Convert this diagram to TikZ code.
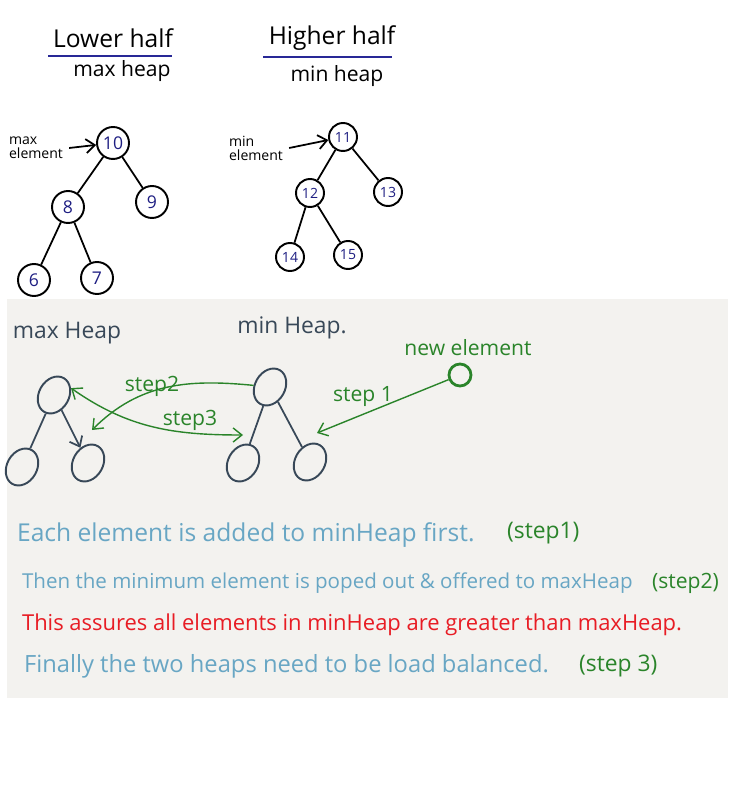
\documentclass[tikz,border=0pt]{standalone}
\usepackage{fontspec}
\setmainfont{Open Sans}
\usetikzlibrary{shapes.geometric,arrows.meta,positioning}
\definecolor{inkblue}{RGB}{104,166,196}
\definecolor{stepgreen}{RGB}{42,132,42}
\definecolor{alertred}{RGB}{232,28,36}
\definecolor{slate}{RGB}{56,72,88}
\definecolor{numblue}{RGB}{30,30,130}
\definecolor{rulerblue}{RGB}{40,40,150}
\definecolor{paper}{RGB}{243,242,239}
\newcommand\lx{15}

\begin{document}
\begin{tikzpicture}[x=0.02cm, y=-0.02cm, >={Straight Barb[length=5pt,width=8pt]},
    heapnode/.style={circle, draw, line width=1.1pt, minimum size=0.64cm, inner sep=0pt, text=numblue, font=\fontsize{10}{10}\selectfont},
    smallnode/.style={heapnode, minimum size=0.56cm, font=\fontsize{8}{8}\selectfont},
    branch/.style={line width=1pt},
    oval/.style={ellipse, draw=slate, line width=1.1pt, minimum width=0.6cm, minimum height=0.78cm, inner sep=0pt, rotate=-30},
    hand/.style={font=\fontsize{12}{14}\selectfont, inner sep=1pt},
    stepline/.style={stepgreen, line width=0.8pt}]

    \useasboundingbox (0,0) rectangle (728,790);

    %Lower half
    \node at (113,38) [font=\fontsize{14}{14}\selectfont] (lower) {Lower half};
    \draw[rulerblue, line width=1.6pt] (48,56) -- (172,56);
    \node at (122,71) [hand] (maxh) {max heap};

    %Higher half
    \node at (332,38) [font=\fontsize{14}{14}\selectfont] (higher) {Higher half};
    \draw[rulerblue, line width=1.6pt] (263,57) -- (392,57);
    \node at (337,76) [hand] (minh) {min heap};

    %max heap
    \node at (113,143) [heapnode] (n10) {10};
    \node at (68,207) [heapnode] (n8) {8};
    \node at (152,202) [heapnode] (n9) {9};
    \node at (34,280) [heapnode] (n6) {6};
    \node at (97,278) [heapnode] (n7) {7};
    \draw[branch] (n10) -- (n8);
    \draw[branch] (n10) -- (n9);
    \draw[branch] (n8) -- (n6);
    \draw[branch] (n8) -- (n7);
    \node at (36,148) [align=left, font=\fontsize{8}{8}\selectfont] (maxel) {max\\element};
    \draw[->, branch] (maxel.east) -- (n10);

    %min heap
    \node at (343,137) [smallnode] (n11) {11};
    \node at (310,193) [smallnode] (n12) {12};
    \node at (388,192) [smallnode] (n13) {13};
    \node at (290,257) [smallnode] (n14) {14};
    \node at (348,255) [smallnode] (n15) {15};
    \draw[branch] (n11) -- (n12);
    \draw[branch] (n11) -- (n13);
    \draw[branch] (n12) -- (n14);
    \draw[branch] (n12) -- (n15);
    \node at (256,148) [align=left, font=\fontsize{8}{8}\selectfont] (minel) {min\\element};
    \draw[->, branch] (minel.east) -- (n11);

    %panel
    \fill[paper] (7,299) rectangle (728,698);
    \node at (67,333) [hand, slate, font=\fontsize{13}{14}\selectfont] (maxlbl) {max Heap};
    \node at (292,328) [hand, slate, font=\fontsize{13}{14}\selectfont] (minlbl) {min Heap.};

    \node at (54,395) [oval] (mx) {};
    \node at (22,467) [oval] (mxl) {};
    \node at (88,463) [oval] (mxr) {};
    \draw[branch, slate] (mx) -- (mxl);
    \draw[->, branch, slate] (mx) -- (mxr);

    \node at (270,387) [oval] (mn) {};
    \node at (243,463) [oval] (mnl) {};
    \node at (310,462) [oval] (mnr) {};
    \draw[branch, slate] (mn) -- (mnl);
    \draw[branch, slate] (mn) -- (mnr);

    %Step 1
    \node at (460,375) [circle, draw=stepgreen, line width=1.6pt, minimum size=0.44cm] (newel) {};
    \node at (468,348) [hand, stepgreen] (newlbl) {new element};
    \coordinate (s1end) at (317,433);
    \draw[->, stepline] (newel) -- (s1end);
    \node at (363,397) [hand, stepgreen] (s1lbl) {step 1};

    %Step 2
    \coordinate (s2end) at (92,430);
    \draw[->, stepline] (mn) to[out=180, in=45] (s2end);
    \node at (152,386) [hand, stepgreen] (s2lbl) {step2};

    %Step 3
    \coordinate (s3end) at (243,435);
    \draw[<->, stepline] (mx.north east) to[out=-35, in=180] (s3end);
    \node at (190,420) [hand, stepgreen] (s3lbl) {step3};

    %notes
    \node at (\lx,535) [hand, inkblue, anchor=west, font=\fontsize{14}{16}\selectfont] (l1) {Each element is added to minHeap first.};
    \node at (505,533) [hand, stepgreen, anchor=west, font=\fontsize{13}{16}\selectfont] (l1s) {(step1)};
    \node at (\lx+5,583) [hand, inkblue, anchor=west, font=\fontsize{11.7}{14}\selectfont] (l2) {Then the minimum element is poped out \& offered to maxHeap};
    \node at (650,583) [hand, stepgreen, anchor=west] (l2s) {(step2)};
    \node at (\lx+5,625) [hand, alertred, anchor=west, font=\fontsize{12.5}{14}\selectfont] (l3) {This assures all elements in minHeap are greater than maxHeap.};
    \node at (\lx+7,666) [hand, inkblue, anchor=west, font=\fontsize{13.5}{16}\selectfont] (l4) {Finally the two heaps need to be load balanced.};
    \node at (577,666) [hand, stepgreen, anchor=west, font=\fontsize{13}{16}\selectfont] (l4s) {(step 3)};
\end{tikzpicture}
\end{document}
